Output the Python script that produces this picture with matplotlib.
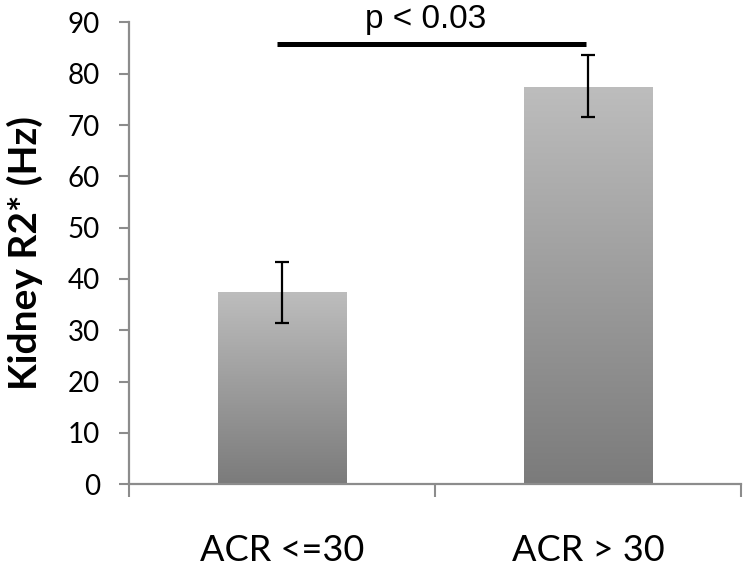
import numpy as np
import matplotlib.pyplot as plt
from matplotlib.colors import LinearSegmentedColormap

plt.rcParams['font.family'] = ['Lato', 'DejaVu Sans']

# data
groups = ['ACR <=30', 'ACR > 30']
means = [37.4, 77.4]
err_low = [31.4, 71.5]
err_high = [43.3, 83.6]
p_text = 'p < 0.03'
p_level = 85.7

fig = plt.figure(figsize=(7.5, 5.75), dpi=100)
ax = fig.add_axes([0.172, 0.158, 0.816, 0.803])

x = np.arange(len(groups)) + 0.5
bars = ax.bar(x, means, width=0.42, color='none', edgecolor='none', zorder=2)

# vertical grey gradient, dark at the bottom
cmap = LinearSegmentedColormap.from_list('bar_grad', ['#7b7b7b', '#bdbdbd'])
grad = np.linspace(0, 1, 256).reshape(-1, 1)
for b in bars:
    x0, w, h = b.get_x(), b.get_width(), b.get_height()
    im = ax.imshow(grad, cmap=cmap, vmin=0, vmax=1, aspect='auto',
                   extent=[x0, x0 + w, 0, h], origin='lower', zorder=2,
                   interpolation='bilinear')
    im.set_clip_path(b)

yerr = [np.array(means) - np.array(err_low), np.array(err_high) - np.array(means)]
ax.errorbar(x, means, yerr=yerr, fmt='none', ecolor='black', elinewidth=1.6,
            capsize=5, capthick=1.6, zorder=3)

# significance bar
ax.plot([x[0] - 0.015, x[1] - 0.005], [p_level, p_level], color='black', lw=3.6,
        solid_capstyle='butt', clip_on=False, zorder=3)
ax.text((x[0] + x[1]) / 2 - 0.03, p_level + 3.2, p_text, ha='center',
        va='baseline', fontsize=24, family=['Liberation Sans', 'DejaVu Sans'])

ax.set_xlim(0, 2)
ax.set_ylim(0, 90)
ax.set_yticks(range(0, 91, 10))
ax.set_xticks([0, 1, 2])
ax.set_xticklabels([])
ax.set_xticks(x, minor=True)
ax.set_xticklabels(groups, minor=True, fontsize=26)
ax.tick_params(axis='x', which='minor', length=0, pad=36)
ax.tick_params(axis='x', which='major', direction='out', length=9, width=1.5,
               color='#8c8c8c')
ax.tick_params(axis='y', direction='out', length=7, width=1.5, color='#8c8c8c',
               labelsize=20, pad=14)
for s in ['top', 'right']:
    ax.spines[s].set_visible(False)
for s in ['left', 'bottom']:
    ax.spines[s].set_color('#8c8c8c')
    ax.spines[s].set_linewidth(1.6)

ax.set_ylabel('Kidney R2* (Hz)', fontsize=28, fontweight='bold')
ax.yaxis.set_label_coords(-0.14, 0.5)

fig.savefig('out.png', dpi=100)
